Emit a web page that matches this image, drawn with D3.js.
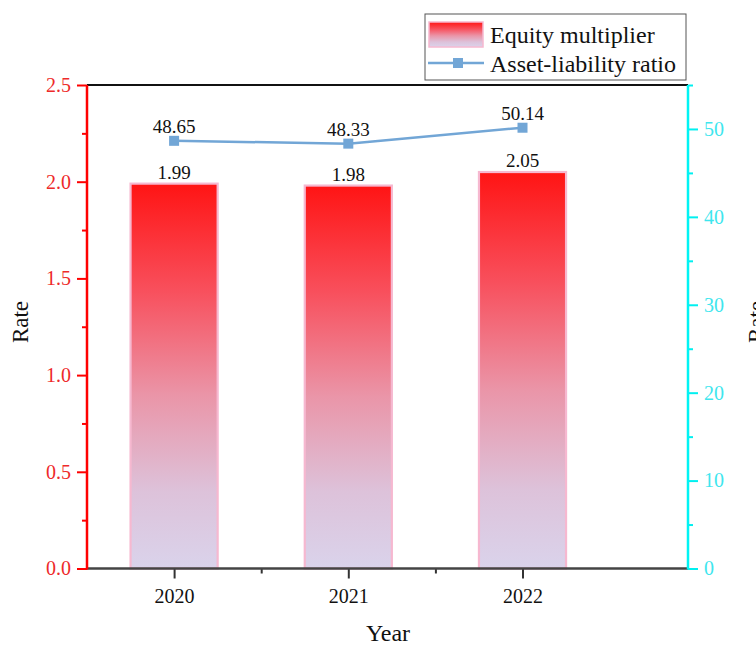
<!DOCTYPE html>
<html><head><meta charset="utf-8">
<script src="https://cdn.jsdelivr.net/npm/d3@7"></script>
<style>body{margin:0;background:#fff}svg{display:block}</style>
</head><body>
<svg id="c" width="756" height="646"></svg>
<script>
const years = [2020, 2021, 2022];
const equityMultiplier = [1.99, 1.98, 2.05];
const assetLiability = [48.65, 48.33, 50.14];
const leftTicks = [0, 0.5, 1.0, 1.5, 2.0, 2.5];
const rightTicks = [0, 10, 20, 30, 40, 50];
const seriesNames = ["Equity multiplier", "Asset-liability ratio"];

const svg = d3.select("#c");
const L = 87, R = 688, T = 85, B = 568.5;
const FONT = "'Liberation Serif', 'Times New Roman', serif";

const x = d3.scaleLinear().domain([2019.5, 2022.95]).range([L, R]);
const yL = d3.scaleLinear().domain([0, 2.5]).range([B, T]);
const yR = d3.scaleLinear().domain([0, 55]).range([B, T]);

const defs = svg.append("defs");
const grad = defs.append("linearGradient").attr("id", "g").attr("x1", 0).attr("y1", 0).attr("x2", 0).attr("y2", 1);
[[0, "#ff1414"], [0.28, "#f8505d"], [0.55, "#ea95a8"], [0.8, "#ddc2da"], [1, "#dad3eb"]]
  .forEach(([o, c]) => grad.append("stop").attr("offset", o).attr("stop-color", c));

// top frame
svg.append("line").attr("x1", L).attr("x2", R).attr("y1", T).attr("y2", T)
  .attr("stroke", "#111").attr("stroke-width", 2);

// bars
const bw = x(2020.25) - x(2020);
svg.append("g").selectAll("rect").data(years).join("rect")
  .attr("x", (d) => x(d) - bw)
  .attr("width", 2 * bw)
  .attr("y", (d, i) => yL(equityMultiplier[i]))
  .attr("height", (d, i) => B - yL(equityMultiplier[i]))
  .attr("fill", "url(#g)")
  .attr("stroke", "#f6b8d0").attr("stroke-width", 2.2);

svg.append("g").selectAll("text").data(years).join("text")
  .attr("x", (d) => x(d)).attr("y", (d, i) => yL(equityMultiplier[i]) - 5)
  .attr("text-anchor", "middle").attr("font-family", FONT).attr("font-size", 19).attr("fill", "#111")
  .text((d, i) => equityMultiplier[i].toFixed(2));

// line
const line = d3.line().x((d, i) => x(years[i])).y((d) => yR(d));
svg.append("path").datum(assetLiability).attr("d", line)
  .attr("fill", "none").attr("stroke", "#72a6d6").attr("stroke-width", 2.5);
svg.append("g").selectAll("rect").data(assetLiability).join("rect")
  .attr("x", (d, i) => x(years[i]) - 5).attr("y", (d) => yR(d) - 5)
  .attr("width", 10).attr("height", 10).attr("fill", "#72a6d6");
svg.append("g").selectAll("text").data(assetLiability).join("text")
  .attr("x", (d, i) => x(years[i])).attr("y", (d) => yR(d) - 8)
  .attr("text-anchor", "middle").attr("font-family", FONT).attr("font-size", 19).attr("fill", "#111")
  .text((d) => d.toFixed(2));

// axes
function styleAxis(g, color, tickColor) {
  g.select(".domain").remove();
  g.selectAll("line").attr("stroke", color).attr("stroke-width", 2);
  g.selectAll("text").attr("font-family", FONT).attr("font-size", 20).attr("fill", tickColor);
}
const xMajor = svg.append("g").attr("transform", `translate(0,${B})`)
  .call(d3.axisBottom(x).tickValues(years).tickFormat(d3.format("d")).tickSize(10).tickPadding(10));
styleAxis(xMajor, "#333", "#111");
const xMinor = svg.append("g").attr("transform", `translate(0,${B})`)
  .call(d3.axisBottom(x).tickValues([2020.5, 2021.5]).tickFormat("").tickSize(5));
styleAxis(xMinor, "#333", "#111");
svg.append("line").attr("x1", L).attr("x2", R).attr("y1", B).attr("y2", B).attr("stroke", "#444").attr("stroke-width", 2.5);

const lMinor = svg.append("g").attr("transform", `translate(${L},0)`)
  .call(d3.axisLeft(yL).tickValues([0.25, 0.75, 1.25, 1.75, 2.25]).tickFormat("").tickSize(5));
styleAxis(lMinor, "#ff0000", "#ee2a2a");
const lMajor = svg.append("g").attr("transform", `translate(${L},0)`)
  .call(d3.axisLeft(yL).tickValues(leftTicks).tickFormat(d3.format(".1f")).tickSize(10).tickPadding(6));
styleAxis(lMajor, "#ff0000", "#ee2a2a");
svg.append("line").attr("x1", L).attr("x2", L).attr("y1", T).attr("y2", B + 1).attr("stroke", "#ff0000").attr("stroke-width", 2.5);

const rMinor = svg.append("g").attr("transform", `translate(${R},0)`)
  .call(d3.axisRight(yR).tickValues([5, 15, 25, 35, 45, 55]).tickFormat("").tickSize(5));
styleAxis(rMinor, "#00f0f0", "#3ee6ee");
const rMajor = svg.append("g").attr("transform", `translate(${R},0)`)
  .call(d3.axisRight(yR).tickValues(rightTicks).tickFormat(d3.format("d")).tickSize(10).tickPadding(6));
styleAxis(rMajor, "#00f0f0", "#3ee6ee");
svg.append("line").attr("x1", R).attr("x2", R).attr("y1", T).attr("y2", B + 1).attr("stroke", "#00f4f4").attr("stroke-width", 2.5);

// axis titles
svg.append("text").attr("transform", "translate(28,322) rotate(-90)").attr("text-anchor", "middle")
  .attr("font-family", FONT).attr("font-size", 23).attr("fill", "#111").text("Rate");
svg.append("text").attr("transform", "translate(764,322) rotate(-90)").attr("text-anchor", "middle")
  .attr("font-family", FONT).attr("font-size", 23).attr("fill", "#111").text("Rate");
svg.append("text").attr("x", 388).attr("y", 641).attr("text-anchor", "middle")
  .attr("font-family", FONT).attr("font-size", 24).attr("fill", "#111").text("Year");

// legend
const lg = svg.append("g");
lg.append("rect").attr("x", 425).attr("y", 14).attr("width", 261).attr("height", 66)
  .attr("fill", "#fff").attr("stroke", "#555").attr("stroke-width", 1);
lg.append("rect").attr("x", 429).attr("y", 22).attr("width", 54).attr("height", 25)
  .attr("fill", "url(#g)").attr("stroke", "#f6b8d0").attr("stroke-width", 1.5);
lg.append("line").attr("x1", 428).attr("x2", 484).attr("y1", 63).attr("y2", 63)
  .attr("stroke", "#72a6d6").attr("stroke-width", 2.5);
lg.append("rect").attr("x", 453).attr("y", 58).attr("width", 10).attr("height", 10).attr("fill", "#72a6d6");
lg.selectAll("text.lt").data(seriesNames).join("text").attr("class", "lt")
  .attr("x", 490).attr("y", (d, i) => 43 + i * 29)
  .attr("font-family", FONT).attr("font-size", 24).attr("fill", "#111").text((d) => d);
</script>
</body></html>
